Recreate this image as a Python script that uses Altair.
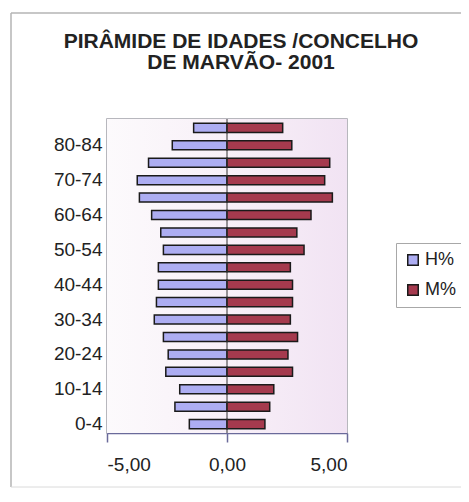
import altair as alt
import pandas as pd

# Age groups, ascending
ages = ["0-4", "5-9", "10-14", "15-19", "20-24", "25-29", "30-34", "35-39",
        "40-44", "45-49", "50-54", "55-59", "60-64", "65-69", "70-74",
        "75-79", "80-84", "85+"]
# Men (H%) and women (M%) share of population
homens = [1.57, 2.17, 1.97, 2.55, 2.45, 2.65, 3.03, 2.94, 2.86, 2.86,
          2.65, 2.76, 3.14, 3.65, 3.74, 3.27, 2.28, 1.39]
mulheres = [1.58, 1.78, 1.95, 2.73, 2.54, 2.94, 2.64, 2.73, 2.73, 2.64,
            3.21, 2.91, 3.50, 4.39, 4.07, 4.28, 2.70, 2.32]
series = ["H%", "M%"]
series_colors = ["#ADADF2", "#A53A4E"]
y_labels = ["0-4", "10-14", "20-24", "30-34", "40-44", "50-54", "60-64", "70-74", "80-84"]
x_ticks = [-5, 0, 5]
title_lines = ["PIRÂMIDE DE IDADES /CONCELHO", "DE MARVÃO- 2001"]

rows = []
for a, h, m in zip(ages, homens, mulheres):
    rows.append({"idade": a, "sexo": "H%", "valor": -h})
    rows.append({"idade": a, "sexo": "M%", "valor": m})
df = pd.DataFrame(rows)

W, H = 240, 314
FONT = "Liberation Sans"

xscale = alt.Scale(domain=[-5, 5], nice=False, zero=False)
yscale = alt.Scale(domain=list(reversed(ages)), paddingInner=0.48, paddingOuter=0.25)

one = alt.Data(values=[{"k": 1}])

FR = "#B4B4B4"
frame_top = alt.Chart(one).mark_rule(color=FR, strokeWidth=1.5).encode(
    x=alt.value(-96), x2=alt.value(360), y=alt.value(-106)
)
frame_left = alt.Chart(one).mark_rule(color=FR, strokeWidth=1.5).encode(
    x=alt.value(-96), y=alt.value(-106), y2=alt.value(368)
)
frame_bottom = alt.Chart(one).mark_rule(color="#DADADA", strokeWidth=1).encode(
    x=alt.value(-96), x2=alt.value(360), y=alt.value(368)
)

title = alt.Chart(one).mark_text(
    text=title_lines, font=FONT, fontSize=21, fontWeight="bold", color="#222222",
    lineHeight=21, align="center", baseline="alphabetic"
).encode(x=alt.value(W / 2 + 14), y=alt.value(-71))

bg = alt.Chart(one).mark_rect(
    color=alt.LinearGradient(
        gradient="linear", x1=0, x2=1, y1=0, y2=0,
        stops=[alt.GradientStop(color="#FCFAFC", offset=0),
               alt.GradientStop(color="#F8F0F8", offset=0.5),
               alt.GradientStop(color="#F1E3F3", offset=1)]
    )
).encode(x=alt.value(0), x2=alt.value(W), y=alt.value(0), y2=alt.value(H))

bars = alt.Chart(df).mark_bar(stroke="#1A1A1A", strokeWidth=1.5).encode(
    y=alt.Y("idade:N", scale=yscale, sort=list(reversed(ages)),
            axis=alt.Axis(values=y_labels, title=None, ticks=False, domain=False,
                          labelFontSize=19, labelFont=FONT, labelColor="#222222",
                          labelPadding=5)),
    x=alt.X("valor:Q", scale=xscale, stack=None,
            axis=alt.Axis(values=x_ticks, title=None, grid=False,
                          labelExpr="replace(replace(format(datum.value, '.2f'), '.', ','), '\u2212', '-')",
                          labelFontSize=19, labelFont=FONT, labelColor="#222222",
                          labelPadding=13, tickSize=9, tickColor="#6A6A9A",
                          tickWidth=1.5, domainColor="#6A6A9A", domainWidth=1.5)),
    color=alt.Color("sexo:N", scale=alt.Scale(domain=series, range=series_colors),
                    title=None,
                    legend=alt.Legend(orient="none", legendX=289, legendY=124,
                                      symbolType="square", symbolSize=110,
                                      symbolStrokeColor="#1A1A1A", symbolStrokeWidth=1.5,
                                      labelFontSize=18, labelFont=FONT,
                                      labelColor="#222222", rowPadding=12,
                                      padding=8, strokeColor="#A8A8A8",
                                      fillColor="#FFFFFF", labelOffset=3)),
)

zero = alt.Chart(one).mark_rule(color="#333333", strokeWidth=1).encode(
    x=alt.datum(0, scale=xscale), y=alt.value(0), y2=alt.value(H)
)

chart = alt.layer(frame_top, frame_left, frame_bottom, title, bg, bars, zero).properties(
    width=W, height=H,
    autosize=alt.AutoSizeParams(type="none"),
    padding={"left": 99, "top": 111, "right": 114, "bottom": 55},
).configure_view(stroke="#A0A0A8", strokeWidth=1.5)

chart.save("out.html", embed_options={"renderer": "svg", "actions": False})
